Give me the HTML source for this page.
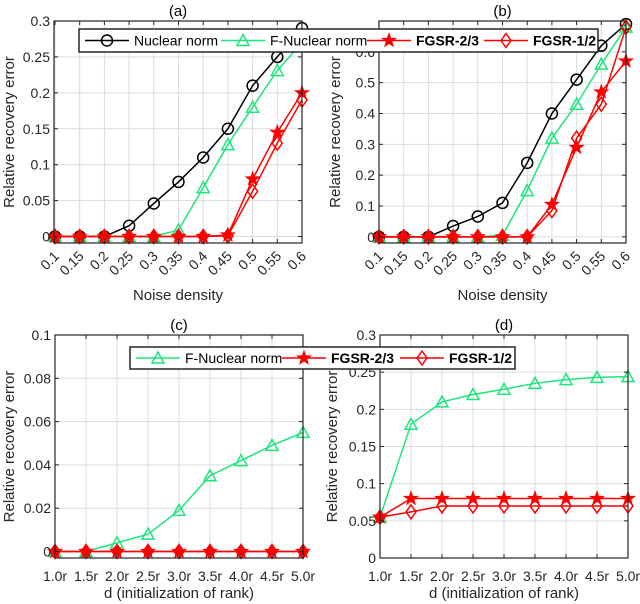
<!DOCTYPE html>
<html><head><meta charset="utf-8"><style>
body{margin:0;background:#fff;}
svg{display:block;font-family:"Liberation Sans",sans-serif;}
</style></head><body>
<svg id="fig" width="640" height="604" viewBox="0 0 640 604" xmlns="http://www.w3.org/2000/svg"></svg>
<script>
const noiseCats=[0.1,0.15,0.2,0.25,0.3,0.35,0.4,0.45,0.5,0.55,0.6];
const noiseTickLabels=["0.1","0.15","0.2","0.25","0.3","0.35","0.4","0.45","0.5","0.55","0.6"];
const rankCats=["1.0r","1.5r","2.0r","2.5r","3.0r","3.5r","4.0r","4.5r","5.0r"];
const aNuclear=[0,0,0,0.015,0.046,0.076,0.11,0.15,0.21,0.25,0.29];
const aFNuclear=[0,0,0,0,0,0.009,0.068,0.128,0.18,0.231,0.27];
const aFGSR23=[0,0,0,0,0,0,0,0.002,0.08,0.145,0.2];
const aFGSR12=[0,0,0,0,0,0,0,0.001,0.063,0.13,0.19];
const bNuclear=[0,0,0,0.035,0.066,0.11,0.24,0.40,0.51,0.62,0.69];
const bFNuclear=[0,0,0,0,0,0.005,0.15,0.32,0.43,0.56,0.68];
const bFGSR23=[0,0,0,0,0,0,0,0.105,0.29,0.47,0.57];
const bFGSR12=[0,0,0,0,0,0,0,0.085,0.32,0.43,0.68];
const cFNuclear=[0,0,0.004,0.008,0.019,0.035,0.042,0.049,0.055];
const cFGSR23=[0,0,0,0,0,0,0,0,0];
const cFGSR12=[0,0,0,0,0,0,0,0,0];
const dFNuclear=[0.055,0.18,0.21,0.22,0.227,0.235,0.24,0.243,0.244];
const dFGSR23=[0.055,0.08,0.08,0.08,0.08,0.08,0.08,0.08,0.08];
const dFGSR12=[0.055,0.062,0.07,0.07,0.07,0.07,0.07,0.07,0.07];
const aYTicks=[0,0.05,0.1,0.15,0.2,0.25,0.3];
const bYTicks=[0,0.1,0.2,0.3,0.4,0.5,0.6];
const cYTicks=[0,0.02,0.04,0.06,0.08,0.1];
const dYTicks=[0,0.05,0.1,0.15,0.2,0.25,0.3];

const NS="http://www.w3.org/2000/svg";
const svg=document.getElementById('fig');
const GREEN="#1fe57c",RED="#ff0000";
function mk(tag,attrs,parent){const e=document.createElementNS(NS,tag);for(const k in attrs)e.setAttribute(k,attrs[k]);(parent||svg).appendChild(e);return e;}
function marker(g,type,x,y,color){
  let e;
  if(type==='o'){e=mk('circle',{cx:x,cy:y,r:5.5,fill:'none',stroke:color,'stroke-width':1.5},g);}
  else if(type==='^'){e=mk('polygon',{points:`${x},${y-6} ${x-6},${y+5} ${x+6},${y+5}`,fill:'none',stroke:color,'stroke-width':1.5},g);}
  else if(type==='d'){e=mk('polygon',{points:`${x},${y-7} ${x+5},${y} ${x},${y+7} ${x-5},${y}`,fill:'none',stroke:color,'stroke-width':1.5},g);}
  else {let p=[];for(let i=0;i<10;i++){const r=i%2?2.8:7;const a=-Math.PI/2+i*Math.PI/5;p.push((x+r*Math.cos(a)).toFixed(1)+','+(y+r*Math.sin(a)).toFixed(1));}
    e=mk('polygon',{points:p.join(' '),fill:color,stroke:color,'stroke-width':1},g);}
  
  
}
function panel(o){
  const g=mk('g',{});
  
  
  const n=o.xs.length;
  const X=i=>o.L+(o.xfun?o.xfun(i):(i/(n-1)))*(o.R-o.L);
  const Y=v=>o.B-(v-o.ymin)/(o.ymax-o.ymin)*(o.B-o.T);
  for(let i=0;i<n;i++){const x=X(i);mk('line',{x1:x,x2:x,y1:o.T,y2:o.B,stroke:'#dcdcdc','stroke-width':1},g);}
  o.yt.forEach(v=>{const y=Y(v);mk('line',{x1:o.L,x2:o.R,y1:y,y2:y,stroke:'#dcdcdc','stroke-width':1},g);});
  o.series.forEach(s=>{
    const sg=mk('g',{},g);
    
    
    mk('polyline',{points:s.v.map((v,i)=>X(i)+','+Y(v)).join(' '),fill:'none',stroke:s.c,'stroke-width':1.5},sg);
    s.v.forEach((v,i)=>marker(sg,s.m,X(i),Y(v),s.c));
  });
  const box=mk('rect',{x:o.L,y:o.T,width:o.R-o.L,height:o.B-o.T,fill:'none',stroke:'#262626','stroke-width':1.2},g);
  
  
  for(let i=0;i<n;i++){const x=X(i);mk('line',{x1:x,x2:x,y1:o.B,y2:o.B-4,stroke:'#262626'},g);mk('line',{x1:x,x2:x,y1:o.T,y2:o.T+4,stroke:'#262626'},g);
    let t;
    if(o.rot){t=mk('text',{x:x+5,y:o.B+14,'font-size':14,fill:'#262626','text-anchor':'end',transform:`rotate(-45 ${x+5} ${o.B+14})`},g);}
    else{t=mk('text',{x:x,y:o.B+23,'font-size':14,fill:'#262626','text-anchor':'middle'},g);}
    t.textContent=o.xl[i];
    
    
  }
  o.yt.forEach(v=>{const y=Y(v);mk('line',{x1:o.L,x2:o.L+4,y1:y,y2:y,stroke:'#262626'},g);mk('line',{x1:o.R,x2:o.R-4,y1:y,y2:y,stroke:'#262626'},g);
    const t=mk('text',{x:o.L-4,y:y+5,'font-size':14,fill:'#262626','text-anchor':'end'},g);t.textContent=String(v);
    
    });
  let t=mk('text',{x:(o.L+o.R)/2,y:o.T-5,'font-size':15,fill:'#000','text-anchor':'middle'},g);t.textContent=o.title;
  
  
  t=mk('text',{x:(o.L+o.R)/2,y:o.xly,'font-size':15,fill:'#262626','text-anchor':'middle'},g);t.textContent=o.xlabel;
  
  
  const cy=(o.T+o.B)/2;
  t=mk('text',{x:o.ylx,y:cy,'font-size':15,fill:'#262626','text-anchor':'middle',transform:`rotate(-90 ${o.ylx} ${cy})`},g);t.textContent='Relative recovery error';
  
  
}
const nxf=i=>(noiseCats[i]-0.098)/(0.6-0.098);
panel({name:'panel-a',title:'(a)',L:54,R:302,T:21,B:243,ymin:-0.009,ymax:0.3,xs:noiseCats,xl:noiseTickLabels,xfun:nxf,rot:true,yt:aYTicks,xlabel:'Noise density',xly:300,ylx:14,
 series:[{name:'series-nuclear',v:aNuclear,c:'#000',m:'o'},{name:'series-f-nuclear',v:aFNuclear,c:GREEN,m:'^'},{name:'series-fgsr-23',v:aFGSR23,c:RED,m:'*'},{name:'series-fgsr-12',v:aFGSR12,c:RED,m:'d'}]});
panel({name:'panel-b',title:'(b)',L:379,R:626,T:21,B:243,ymin:-0.02,ymax:0.7,xs:noiseCats,xl:noiseTickLabels,rot:true,yt:bYTicks,xlabel:'Noise density',xly:300,ylx:340,
 series:[{name:'series-nuclear',v:bNuclear,c:'#000',m:'o'},{name:'series-f-nuclear',v:bFNuclear,c:GREEN,m:'^'},{name:'series-fgsr-23',v:bFGSR23,c:RED,m:'*'},{name:'series-fgsr-12',v:bFGSR12,c:RED,m:'d'}]});
panel({name:'panel-c',title:'(c)',L:55,R:303,T:335,B:558,ymin:-0.003,ymax:0.1,xs:rankCats,xl:rankCats,yt:cYTicks,xlabel:'d (initialization of rank)',xly:598,ylx:14,
 series:[{name:'series-f-nuclear',v:cFNuclear,c:GREEN,m:'^'},{name:'series-fgsr-23',v:cFGSR23,c:RED,m:'*'},{name:'series-fgsr-12',v:cFGSR12,c:RED,m:'d'}]});
panel({name:'panel-d',title:'(d)',L:380,R:628,T:335,B:558,ymin:0,ymax:0.3,xs:rankCats,xl:rankCats,yt:dYTicks,xlabel:'d (initialization of rank)',xly:598,ylx:337,
 series:[{name:'series-f-nuclear',v:dFNuclear,c:GREEN,m:'^'},{name:'series-fgsr-23',v:dFGSR23,c:RED,m:'*'},{name:'series-fgsr-12',v:dFGSR12,c:RED,m:'d'}]});

function legend(name,x,y,w,h,items){
  const g=mk('g',{});
  
  
  mk('rect',{x:x,y:y,width:w,height:h,fill:'#fff',stroke:'#262626','stroke-width':1.5},g);
  let cx=x+6;const cy=y+h/2;
  items.forEach(it=>{
    const eg=mk('g',{},g);
    
    
    mk('line',{x1:cx,x2:cx+44,y1:cy,y2:cy,stroke:it.c,'stroke-width':1.5},eg);
    marker(eg,it.m,cx+22,cy,it.c);
    const t=mk('text',{x:cx+49,y:cy+5,'font-size':14,fill:'#000','font-weight':it.b?'bold':'normal'},eg);t.textContent=it.t;
    cx+=it.w;
  });
}
legend('legend-top',79,29,519,23,[{t:'Nuclear norm',c:'#000',m:'o',w:136},{t:'F-Nuclear norm',c:GREEN,m:'^',w:146},{t:'FGSR-2/3',c:RED,m:'*',b:1,w:117},{t:'FGSR-1/2',c:RED,m:'d',b:1,w:117}]);
legend('legend-bottom',130,347,385,22,[{t:'F-Nuclear norm',c:GREEN,m:'^',w:146},{t:'FGSR-2/3',c:RED,m:'*',b:1,w:118},{t:'FGSR-1/2',c:RED,m:'d',b:1,w:118}]);
</script>
</body></html>
